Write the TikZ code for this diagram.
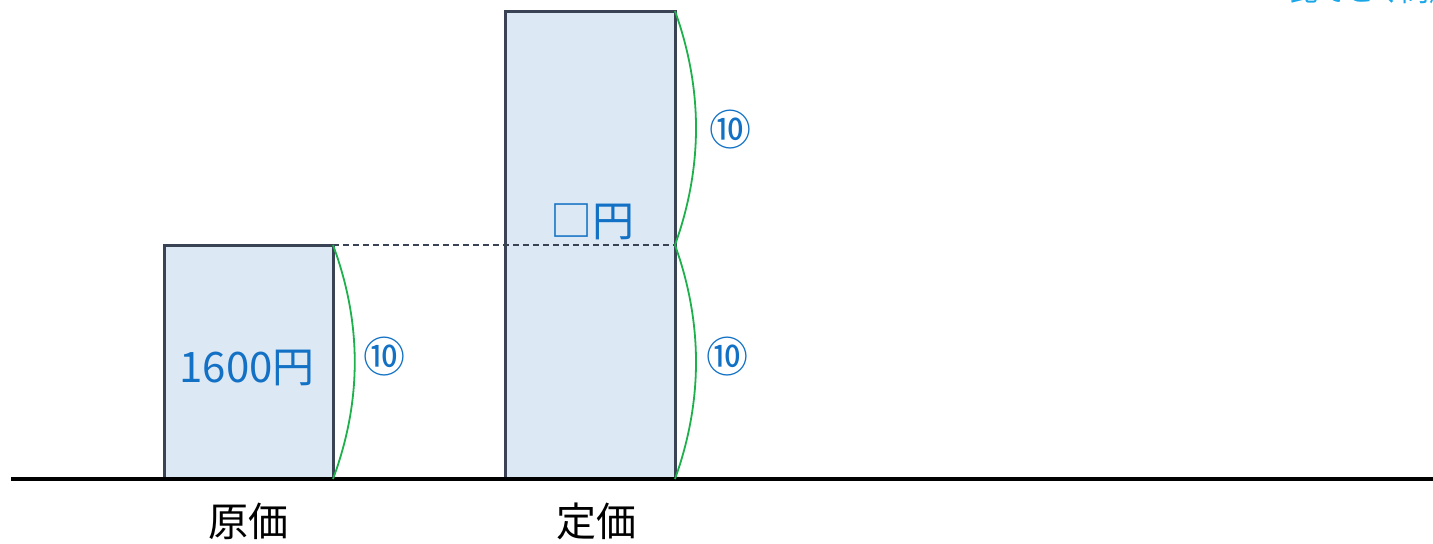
\documentclass[tikz,border=0pt]{standalone}
\usepackage{fontspec}
\setmainfont{Noto Sans CJK JP}
\usetikzlibrary{calc}
\definecolor{barfill}{HTML}{DDE8F5}
\definecolor{barline}{HTML}{3A4354}
\definecolor{labelblue}{HTML}{1271C4}
\definecolor{ratiogreen}{HTML}{1DB14B}
\definecolor{titlecyan}{HTML}{19A7E8}

\begin{document}
\begin{tikzpicture}[x=0.5pt, y=0.5pt,
  bar/.style={draw=barline, fill=barfill, line width=1.5pt, minimum width=85pt,
    anchor=south west, outer sep=0pt, inner sep=0pt},
  lbl/.style={text=labelblue, font=\fontsize{21}{24}\selectfont},
  axislbl/.style={font=\fontsize{20}{24}\selectfont},
  ratio/.style={ratiogreen, line width=0.9pt}]
  \useasboundingbox (0,0) rectangle (1433,543);
  % bars
  \node[bar, minimum width=84.5pt, minimum height=117pt] (genka) at (164,64) {};
  \node[bar, minimum height=234pt] (teika) at (505,64) {};
  \coordinate (mid) at (teika.east |- genka.north east);
  \draw[dashed, dash pattern=on 3pt off 2pt, barline, line width=0.6pt] (genka.north east) -- (mid);
  % base line
  \coordinate (left) at (11,64);
  \coordinate (right) at (1433,64);
  \draw[line width=2pt] (left) -- (right);
  % ratio curves
  \draw[ratio] (genka.north east) .. controls ($(genka.north east)+(29,-78)$) and ($(genka.south east)+(29,78)$) .. (genka.south east);
  \draw[ratio] (teika.north east) .. controls ($(teika.north east)+(28,-78)$) and ($(mid)+(28,78)$) .. (mid);
  \draw[ratio] (mid) .. controls ($(mid)+(28,-78)$) and ($(teika.south east)+(28,78)$) .. (teika.south east);
  % labels
  \node[lbl] (r1) at (384,186) {⑩};
  \node[lbl] (r2) at (730,413) {⑩};
  \node[lbl] (r3) at (727,186) {⑩};
  \node[lbl] (cost) at (247,175) {1600円};
  \node[lbl] (price) at (592,321) {□円};
  \node[axislbl] (costname) at (248,22) {原価};
  \node[axislbl] (pricename) at (596,22) {定価};
  \node[text=titlecyan, font=\fontsize{14}{16}\selectfont, anchor=base west, inner sep=0pt] (title) at (1290,542) {比でとく問題};
\end{tikzpicture}
\end{document}
